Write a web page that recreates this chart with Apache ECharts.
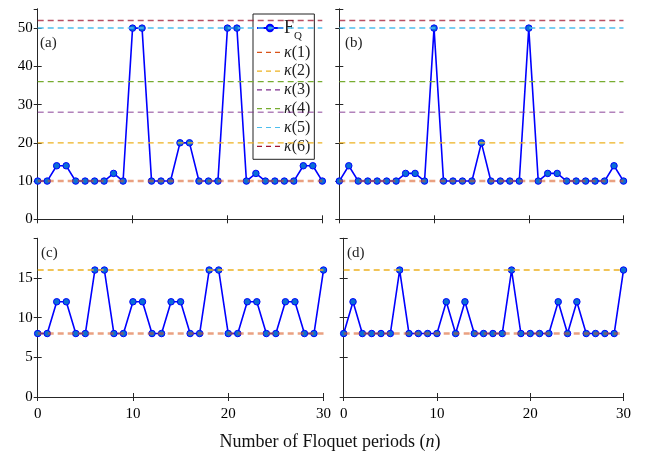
<!DOCTYPE html>
<html>
<head>
<meta charset="utf-8">
<script src="https://cdn.jsdelivr.net/npm/echarts@6/dist/echarts.min.js"></script>
<style>html,body{margin:0;padding:0;background:#fff}#c{width:647px;height:458px}</style>
</head>
<body>
<div id="c"></div>
<script>
// ---- data ----
const nMax = 30;
const fqA = [10,10,14,14,10,10,10,10,12,10,50,50,10,10,10,20,20,10,10,10,50,50,10,12,10,10,10,10,14,14,10];
const fqB = [10,14,10,10,10,10,10,12,12,10,50,10,10,10,10,20,10,10,10,10,50,10,12,12,10,10,10,10,10,14,10];
const fqC = [8,8,12,12,8,8,16,16,8,8,12,12,8,8,12,12,8,8,16,16,8,8,12,12,8,8,12,12,8,8,16];
const fqD = [8,12,8,8,8,8,16,8,8,8,8,12,8,12,8,8,8,8,16,8,8,8,8,12,8,12,8,8,8,8,16];
const kappaTop = [10,20,28,36,50,52];
const kappaBottom = [8,16];
const kappaNames = ['k1','k2','k3','k4','k5','k6'];
const panelLabels = ['(a)','(b)','(c)','(d)'];

// ---- styles ----
const FONT = 'Liberation Serif';
const AX = '#262626';
const kappaStyle = [
  {color:'#D95319', width:2.5, opacity:0.55},
  {color:'#EDB120', width:1.4, opacity:1},
  {color:'#7E2F8E', width:1.6, opacity:0.6},
  {color:'#77AC30', width:1.4, opacity:1},
  {color:'#4DBEEE', width:2, opacity:0.75},
  {color:'#A2142F', width:1.5, opacity:0.75}
];

const grids = [
  {left:37.7, top:9, width:284.6, height:210.3},
  {left:339.3, top:9, width:284.2, height:210.3},
  {left:37.7, top:238.3, width:285.8, height:158.7},
  {left:343.7, top:238.3, width:279.8, height:158.7}
];
const panels = [
  {fq:fqA, kappa:kappaTop, ymax:55, yint:10, ylab:true, xlab:false},
  {fq:fqB, kappa:kappaTop, ymax:55, yint:10, ylab:false, xlab:false},
  {fq:fqC, kappa:kappaBottom, ymax:20, yint:5, ylab:true, xlab:true},
  {fq:fqD, kappa:kappaBottom, ymax:20, yint:5, ylab:false, xlab:true}
];
const labelPos = [[40,43],[345,43],[41,253],[347,253]];

const xAxis = [], yAxis = [], series = [], graphic = [];
const lineAx = {show:true, lineStyle:{color:AX, width:1}};
const tickAx = {show:true, inside:true, length:4, lineStyle:{color:AX, width:1}};
panels.forEach((p, gi) => {
  const xb = xAxis.length;
  xAxis.push({gridIndex:gi, type:'value', min:0, max:nMax, interval:10, position:'bottom',
    axisLine:lineAx, axisTick:tickAx, splitLine:{show:false},
    axisLabel:{show:p.xlab, fontFamily:FONT, fontSize:15, color:'#000', margin:10}});
  xAxis.push({gridIndex:gi, type:'value', min:0, max:nMax, interval:10, position:'top',
    axisLine:lineAx, axisTick:tickAx, splitLine:{show:false}, axisLabel:{show:false}});
  const yb = yAxis.length;
  yAxis.push({gridIndex:gi, type:'value', min:0, max:p.ymax, interval:p.yint, position:'left',
    axisLine:lineAx, axisTick:tickAx, splitLine:{show:false},
    axisLabel:{show:p.ylab, fontFamily:FONT, fontSize:15, color:'#000', margin:5, showMaxLabel:false}});
  yAxis.push({gridIndex:gi, type:'value', min:0, max:p.ymax, interval:p.yint, position:'right',
    axisLine:lineAx, axisTick:tickAx, splitLine:{show:false}, axisLabel:{show:false}});

  series.push({name:'FQ', type:'line', xAxisIndex:xb, yAxisIndex:yb,
    data:p.fq.map((v,i)=>[i,v]), symbol:'circle', symbolSize:6.5, showSymbol:true,
    lineStyle:{color:'#0000FF', width:1.6}, itemStyle:{color:'#0A6ED6', borderColor:'#0000FF', borderWidth:1},
    z:3, animation:false, silent:true});
  p.kappa.forEach((k, ki) => {
    const s = kappaStyle[ki];
    series.push({name:kappaNames[ki], type:'line', xAxisIndex:xb, yAxisIndex:yb,
      data:[[0,k],[nMax,k]], symbol:'none', showSymbol:false,
      lineStyle:{color:s.color, width:s.width, opacity:s.opacity, type:[6,4]},
      itemStyle:{color:s.color}, z:4, animation:false, silent:true});
  });

  graphic.push({type:'text', x:labelPos[gi][0], y:labelPos[gi][1], z:10,
    style:{text:panelLabels[gi], fontFamily:FONT, fontSize:15, fill:'#222', verticalAlign:'middle'}});
});

graphic.push({type:'text', x:330, y:442, z:10,
  style:{text:'Number of Floquet periods ({i|n})', fontFamily:FONT, fontSize:18, fill:'#111',
    align:'center', verticalAlign:'middle',
    rich:{i:{fontFamily:FONT, fontSize:18, fontStyle:'italic', fill:'#111'}}}});

const legendData = [{name:'FQ'}].concat(kappaNames.map((nm, i) => ({
  name:nm,
  lineStyle:{color:kappaStyle[i].color, width:1.2, opacity:1, type:[5,4]},
  itemStyle:{color:'rgba(0,0,0,0)', borderWidth:0, opacity:0}
})));

const option = {
  animation:false,
  backgroundColor:'#fff',
  grid:grids,
  xAxis, yAxis, series, graphic,
  legend:{
    data:legendData, orient:'vertical', left:253, top:14, width:60,
    backgroundColor:'#fff', borderColor:'#222', borderWidth:1, borderRadius:0,
    padding:[5,4,5,3], itemGap:2.8, itemWidth:26, itemHeight:8, selectedMode:false,
    formatter: nm => nm === 'FQ' ? '{f|F}{s|Q}' : '{i|κ}(' + nm.slice(1) + ')',
    textStyle:{fontFamily:FONT, fontSize:16, color:'#222', padding:[0,0,0,-4],
      rich:{f:{fontFamily:FONT, fontSize:18, color:'#222'},
            s:{fontFamily:FONT, fontSize:11, padding:[16,0,0,0], color:'#222'},
            i:{fontFamily:FONT, fontSize:16, fontStyle:'italic', color:'#222'}}}
  }
};
const chart = echarts.init(document.getElementById('c'), null, {renderer:'canvas'});
chart.setOption(option);
</script>
</body>
</html>
